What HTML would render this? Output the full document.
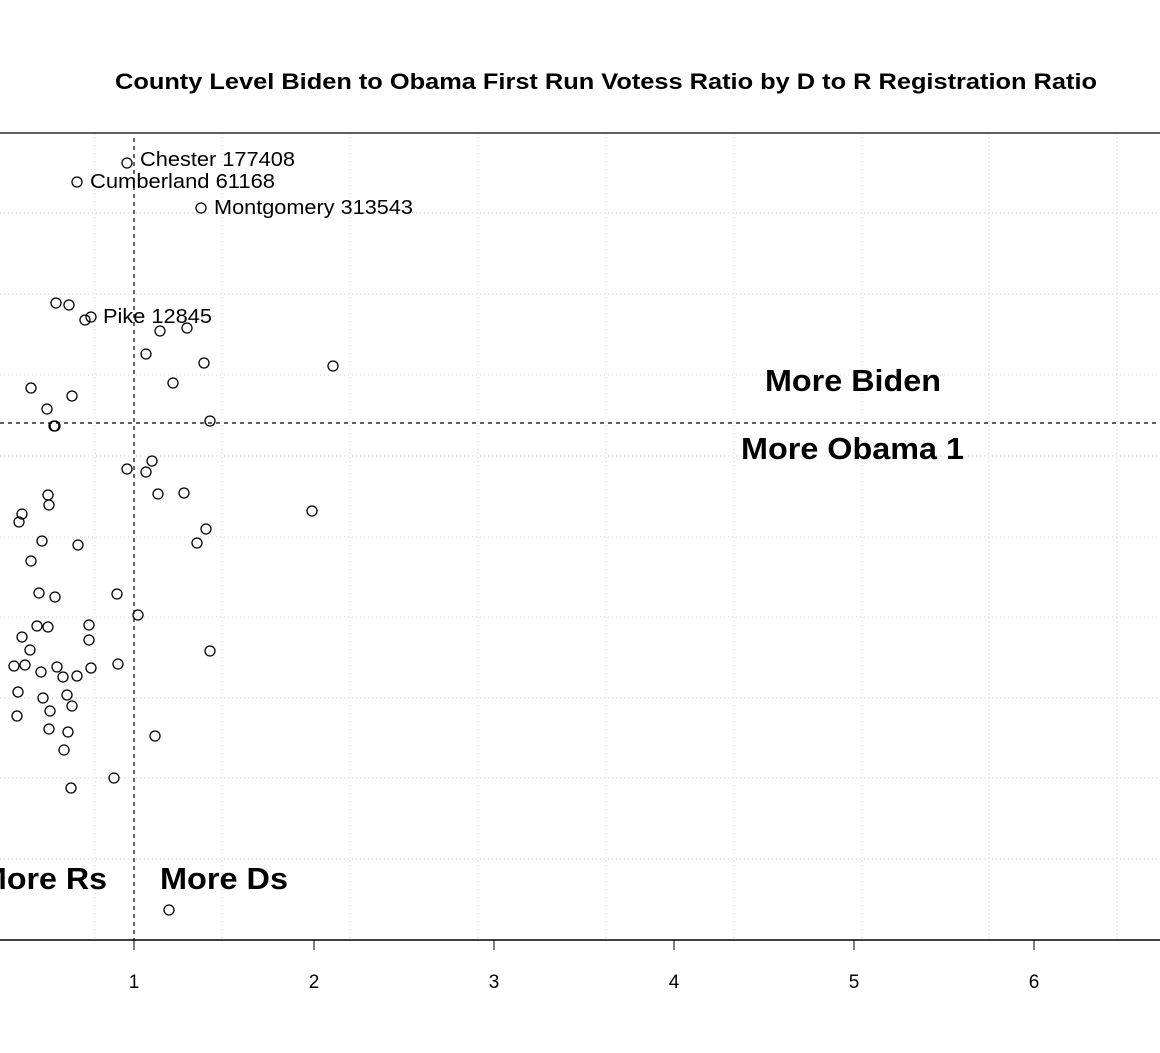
<!DOCTYPE html>
<html><head><meta charset="utf-8"><style>html,body{margin:0;padding:0;background:#fff}</style></head>
<body>
<svg width="1160" height="1048" xmlns="http://www.w3.org/2000/svg" font-family="Liberation Sans, Arial, sans-serif">
<text x="115" y="89" font-size="22" font-weight="bold" textLength="982" lengthAdjust="spacingAndGlyphs">County Level Biden to Obama First Run Votess Ratio by D to R Registration Ratio</text>
<g stroke="#ccc" stroke-width="1" stroke-dasharray="1,3">
<line x1="95" y1="133" x2="95" y2="940"/><line x1="222" y1="133" x2="222" y2="940"/><line x1="350" y1="133" x2="350" y2="940"/><line x1="478" y1="133" x2="478" y2="940"/><line x1="606" y1="133" x2="606" y2="940"/><line x1="734" y1="133" x2="734" y2="940"/><line x1="862" y1="133" x2="862" y2="940"/><line x1="989" y1="133" x2="989" y2="940"/><line x1="1117" y1="133" x2="1117" y2="940"/>
<line x1="0" y1="213" x2="1160" y2="213"/><line x1="0" y1="294" x2="1160" y2="294"/><line x1="0" y1="375" x2="1160" y2="375"/><line x1="0" y1="456" x2="1160" y2="456"/><line x1="0" y1="537" x2="1160" y2="537"/><line x1="0" y1="617" x2="1160" y2="617"/><line x1="0" y1="698" x2="1160" y2="698"/><line x1="0" y1="778" x2="1160" y2="778"/><line x1="0" y1="859" x2="1160" y2="859"/>
</g>
<line x1="0" y1="133" x2="1160" y2="133" stroke="#000" stroke-width="1.2"/>
<line x1="0" y1="940" x2="1160" y2="940" stroke="#000" stroke-width="1.5"/>
<g stroke="#000" stroke-width="1">
<line x1="134" y1="940" x2="134" y2="950"/><line x1="314" y1="940" x2="314" y2="950"/><line x1="494" y1="940" x2="494" y2="950"/><line x1="674" y1="940" x2="674" y2="950"/><line x1="854" y1="940" x2="854" y2="950"/><line x1="1034" y1="940" x2="1034" y2="950"/>
</g>
<g font-size="19" text-anchor="middle">
<text x="134" y="988">1</text><text x="314" y="988">2</text><text x="494" y="988">3</text><text x="674" y="988">4</text><text x="854" y="988">5</text><text x="1034" y="988">6</text>
</g>
<line x1="134" y1="138" x2="134" y2="940" stroke="#000" stroke-width="1.2" stroke-dasharray="4,4"/>
<line x1="0" y1="423" x2="1160" y2="423" stroke="#000" stroke-width="1.2" stroke-dasharray="4,4"/>
<g fill="none" stroke="#000" stroke-width="1.3">
<circle cx="127" cy="163" r="5"/><circle cx="77" cy="182" r="5"/><circle cx="201" cy="208" r="5"/><circle cx="85" cy="320" r="5"/><circle cx="91" cy="317" r="5"/>
<circle cx="56" cy="303" r="5"/><circle cx="69" cy="305" r="5"/><circle cx="160" cy="331" r="5"/><circle cx="187" cy="328" r="5"/><circle cx="146" cy="354" r="5"/><circle cx="204" cy="363" r="5"/><circle cx="333" cy="366" r="5"/><circle cx="31" cy="388" r="5"/><circle cx="72" cy="396" r="5"/><circle cx="173" cy="383" r="5"/><circle cx="47" cy="409" r="5"/><circle cx="54" cy="426" r="5"/><circle cx="55" cy="426" r="5"/><circle cx="210" cy="421" r="5"/>
<circle cx="152" cy="461" r="5"/><circle cx="127" cy="469" r="5"/><circle cx="146" cy="472" r="5"/><circle cx="48" cy="495" r="5"/><circle cx="49" cy="505" r="5"/><circle cx="158" cy="494" r="5"/><circle cx="184" cy="493" r="5"/><circle cx="312" cy="511" r="5"/><circle cx="22" cy="514" r="5"/><circle cx="19" cy="522" r="5"/><circle cx="206" cy="529" r="5"/><circle cx="197" cy="543" r="5"/><circle cx="42" cy="541" r="5"/><circle cx="78" cy="545" r="5"/><circle cx="31" cy="561" r="5"/><circle cx="39" cy="593" r="5"/><circle cx="55" cy="597" r="5"/><circle cx="117" cy="594" r="5"/><circle cx="138" cy="615" r="5"/><circle cx="37" cy="626" r="5"/><circle cx="48" cy="627" r="5"/><circle cx="89" cy="625" r="5"/><circle cx="22" cy="637" r="5"/><circle cx="89" cy="640" r="5"/><circle cx="30" cy="650" r="5"/><circle cx="210" cy="651" r="5"/><circle cx="14" cy="666" r="5"/><circle cx="25" cy="665" r="5"/><circle cx="57" cy="667" r="5"/><circle cx="91" cy="668" r="5"/><circle cx="118" cy="664" r="5"/><circle cx="41" cy="672" r="5"/><circle cx="63" cy="677" r="5"/><circle cx="77" cy="676" r="5"/><circle cx="18" cy="692" r="5"/><circle cx="43" cy="698" r="5"/><circle cx="67" cy="695" r="5"/><circle cx="72" cy="706" r="5"/><circle cx="50" cy="711" r="5"/><circle cx="17" cy="716" r="5"/><circle cx="49" cy="729" r="5"/><circle cx="68" cy="732" r="5"/><circle cx="155" cy="736" r="5"/><circle cx="64" cy="750" r="5"/><circle cx="114" cy="778" r="5"/><circle cx="71" cy="788" r="5"/><circle cx="169" cy="910" r="5"/>
</g>
<g font-size="20">
<text x="140" y="166" textLength="155" lengthAdjust="spacingAndGlyphs">Chester 177408</text>
<text x="90" y="188" textLength="185" lengthAdjust="spacingAndGlyphs">Cumberland 61168</text>
<text x="214" y="214" textLength="199" lengthAdjust="spacingAndGlyphs">Montgomery 313543</text>
<text x="103" y="323" textLength="109" lengthAdjust="spacingAndGlyphs">Pike 12845</text>
</g>
<g font-size="31" font-weight="bold">
<text x="765" y="391" textLength="176" lengthAdjust="spacingAndGlyphs">More Biden</text>
<text x="741" y="459" textLength="223" lengthAdjust="spacingAndGlyphs">More Obama 1</text>
<text x="-20" y="889" textLength="127" lengthAdjust="spacingAndGlyphs">More Rs</text>
<text x="160" y="889" textLength="128" lengthAdjust="spacingAndGlyphs">More Ds</text>
</g>
</svg>
</body></html>
